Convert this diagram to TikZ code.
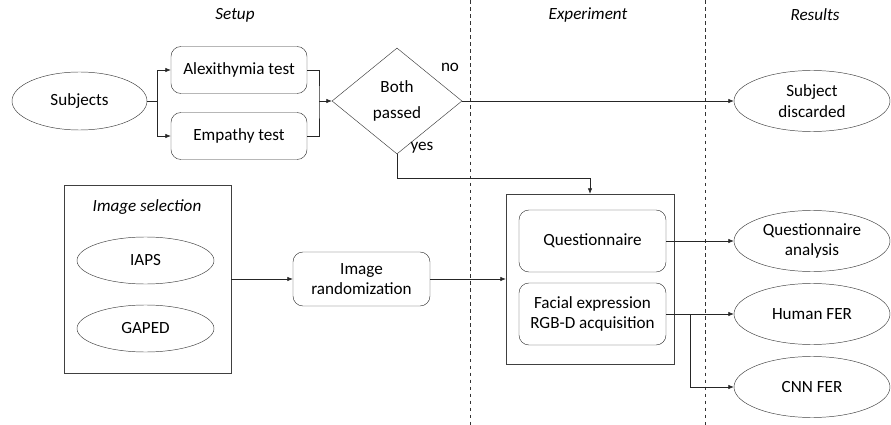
\documentclass[tikz,border=0pt]{standalone}
\usepackage{fontspec}
\setmainfont{Carlito}
\usetikzlibrary{shapes.geometric,arrows.meta}
\begin{document}
\begin{tikzpicture}[
        x=0.03cm, y=-0.03cm,
        font=\fontsize{14.6}{17.5}\selectfont,
        every node/.style={align=center},
        oval/.style={ellipse, draw=black!75, inner sep=1pt},
        task/.style={rectangle, rounded corners=0.3cm, draw=black!80, inner sep=2pt},
        group/.style={rectangle, draw=black!75, inner sep=0pt},
        decide/.style={diamond, draw=black!75, inner sep=0pt, minimum width=3.9cm, minimum height=3.18cm},
        head/.style={font=\fontsize{14.6}{17.5}\selectfont\itshape},
        arrow/.style={-{Latex[length=1.6mm,width=1.3mm]}, black!85, line width=0.5pt},
        line/.style={black!85, line width=0.5pt},
        split/.style={dashed, black!80, line width=0.5pt}
    ]
    \useasboundingbox (0,0) rectangle (891,425);

    % phases
    \node[head] (setup) at (235,15) {Setup};
    \node[head] (exper) at (588,15) {Experiment};
    \node[head] (resul) at (815,15) {Results};
    \draw[split] (470,0) -- (470,425);
    \draw[split] (705,0) -- (705,425);

    % setup
    \node[oval, minimum width=4.05cm, minimum height=1.74cm] (subj) at (79.5,101) {Subjects};
    \node[task, minimum width=4.08cm, minimum height=1.41cm] (alex) at (239,70) {Alexithymia test};
    \node[task, minimum width=4.08cm, minimum height=1.41cm] (emp) at (239,136) {Empathy test};
    \node[decide] (both) at (397,101) {Both\\[4pt]passed};
    \node (no) at (450,67) {no};
    \node (yes) at (422,148) {yes};

    \node[group, minimum width=5.01cm, minimum height=5.64cm] (sel) at (147.5,279) {};
    \node[head] (seltitle) at (147,207) {Image selection};
    \node[oval, minimum width=4.11cm, minimum height=1.41cm] (iaps) at (145.5,260.5) {IAPS};
    \node[oval, minimum width=4.11cm, minimum height=1.41cm] (gaped) at (145.5,328.5) {GAPED};
    \node[task, minimum width=4.11cm, minimum height=1.62cm] (rand) at (361.5,279) {Image\\randomization};

    % experiment
    \node[group, minimum width=5.04cm, minimum height=5.1cm] (exp) at (590,279) {};
    \node[task, minimum width=4.41cm, minimum height=1.86cm] (quest) at (592.5,241) {Questionnaire};
    \node[task, minimum width=4.41cm, minimum height=1.86cm] (face) at (592.5,314) {Facial expression\\RGB-D acquisition};

    % results
    \node[oval, minimum width=4.68cm, minimum height=1.83cm] (disc) at (812,101) {Subject\\discarded};
    \node[oval, minimum width=4.68cm, minimum height=1.83cm] (qana) at (812,241) {Questionnaire\\analysis};
    \node[oval, minimum width=4.68cm, minimum height=1.83cm] (human) at (812,314) {Human FER};
    \node[oval, minimum width=4.68cm, minimum height=1.83cm] (cnn) at (812,387) {CNN FER};

    \coordinate (fork) at (157,101);
    \coordinate (merge) at (319,101);
    \coordinate (split) at (690,314);

    \draw[line] (subj.east) -- (fork);
    \draw[arrow] (fork) |- (alex.west);
    \draw[arrow] (fork) |- (emp.west);
    \draw[line] (alex.east) -| (merge) |- (emp.east);
    \draw[arrow] (merge) -- (both.west);
    \draw[arrow] (both.east) -- (disc.west);
    \draw[arrow] (both.south) -- ++(0,24) -| (exp.north);
    \draw[arrow] (sel.east) -- (rand.west);
    \draw[arrow] (rand.east) -- (exp.west);
    \draw[arrow] (quest.east) -- (qana.west);
    \draw[arrow] (face.east) -- (human.west);
    \draw[arrow] (split) |- (cnn.west);

\end{tikzpicture}
\end{document}
